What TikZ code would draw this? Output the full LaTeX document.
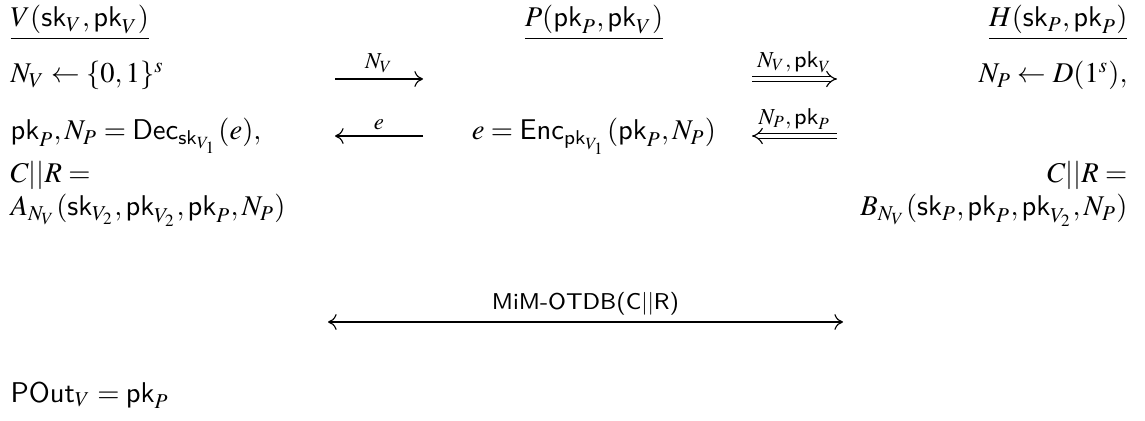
\documentclass[tikz,border=0pt]{standalone}
\usepackage{mathptmx}
\DeclareMathAlphabet{\mathsans}{OT1}{cmss}{m}{n}
\usepackage{tikz}
\usetikzlibrary{arrows.meta}
\newcommand{\msk}{\mathsans{sk}}
\newcommand{\mpk}{\mathsans{pk}}
\tikzset{
  %% ── Text ─────────────────────────────────────────────────────────────
  %% every line of the protocol sits on a baseline, left, centre or right
  ligne/.style      = {inner sep=0pt, font=\normalsize},
  ligneG/.style     = {ligne, anchor=base west},
  ligneC/.style     = {ligne, anchor=base},
  ligneD/.style     = {ligne, anchor=base east},
  etiquette/.style  = {font=\footnotesize, inner sep=2pt, above},
  %%
  %% ── Arrows ───────────────────────────────────────────────────────────
  fleche/.style     = {-{To[length=3pt, width=5.5pt]}, line width=0.4pt},
  flecheDouble/.style = {-{Implies}, double, double distance=1.6pt,
                       line width=0.4pt},
  flecheBi/.style   = {{To[length=3pt, width=5.5pt]}-{To[length=3pt, width=5.5pt]},
                       line width=0.4pt},
}

\begin{document}
\begin{tikzpicture}[x=0.35pt, y=-0.35pt]
\useasboundingbox (0,0) rectangle (1145,421);

% parties
\node[ligneG] (hdrV) at (10, 27)   {$\underline{V(\msk_V, \mpk_V)}$};
\node[ligneC] (hdrP) at (594, 27)  {$\underline{P(\mpk_P, \mpk_V)}$};
\node[ligneD] (hdrH) at (1128, 27) {$\underline{H(\msk_P, \mpk_P)}$};

% first round
\node[ligneG] (nonceV) at (10, 83)   {$N_V \leftarrow \{0,1\}^s$};
\node[ligneD] (nonceH) at (1128, 83) {$N_P \leftarrow D(1^s),$};
\coordinate (m1a) at (335, 79);  \coordinate (m1b) at (423, 79);
\coordinate (m2a) at (752, 79);  \coordinate (m2b) at (837, 79);
\draw[fleche] (m1a) -- node[etiquette] {$N_V$} (m1b);
\draw[flecheDouble] (m2a) -- node[etiquette] {$N_V, \mpk_V$} (m2b);

% second round
\node[ligneG] (decV) at (10, 140)
     {$\mpk_P, N_P = \mathsans{Dec}_{\msk_{V_1}}(e),$};
\node[ligneC] (encP) at (594, 140)
     {$e = \mathsans{Enc}_{\mpk_{V_1}}(\mpk_P, N_P)$};
\coordinate (m3a) at (335, 136); \coordinate (m3b) at (423, 136);
\coordinate (m4a) at (752, 136); \coordinate (m4b) at (837, 136);
\draw[fleche] (m3b) -- node[etiquette] {$e$} (m3a);
\draw[flecheDouble] (m4b) -- node[etiquette] {$N_P, \mpk_P$} (m4a);

% challenge/response
\node[ligneG] (crV) at (10, 183)   {$C||R =$};
\node[ligneD] (crH) at (1128, 183) {$C||R =$};
\node[ligneG] (aV) at (10, 216)
     {$A_{N_V}(\msk_{V_2}, \mpk_{V_2}, \mpk_P, N_P)$};
\node[ligneD] (bH) at (1128, 216)
     {$B_{N_V}(\msk_P, \mpk_P, \mpk_{V_2}, N_P)$};

\coordinate (m5a) at (328, 322); \coordinate (m5b) at (843, 322);
\draw[flecheBi] (m5a) -- node[etiquette] {\textsf{MiM-OTDB(C$||$R)}} (m5b);

% output
\node[ligneG] (pout) at (10, 402) {$\mathsans{POut}_V = \mpk_P$};

\end{tikzpicture}
\end{document}
